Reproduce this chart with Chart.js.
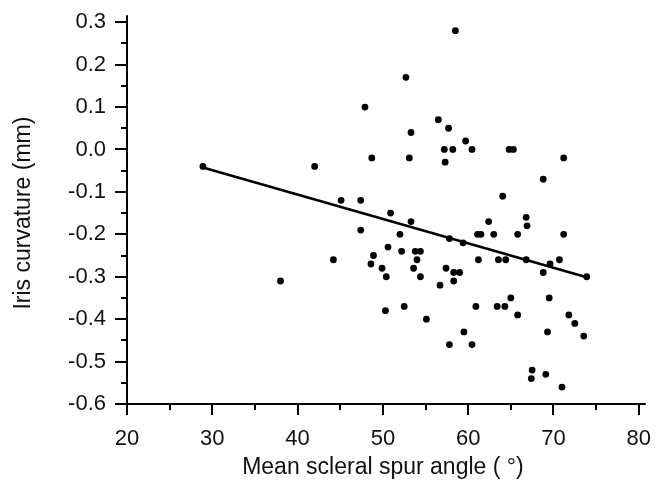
<!DOCTYPE html>
<html>
<head>
<meta charset="utf-8">
<script src="https://cdn.jsdelivr.net/npm/chart.js@4"></script>
<style>
html,body{margin:0;padding:0;background:#fff;}
#wrap{width:662px;height:489px;}
</style>
</head>
<body>
<div id="wrap"><canvas id="c" width="662" height="489"></canvas></div>
<script>
const angleValues = [28.9,38.0,42.0,44.2,45.1,47.4,47.4,47.9,48.6,48.7,48.9,49.9,50.3,50.4,50.6,50.9,52.0,52.2,52.5,52.7,53.1,53.3,53.3,53.6,53.8,54.0,54.4,54.4,55.1,56.5,56.7,57.2,57.3,57.4,57.7,57.8,57.8,58.2,58.3,58.3,58.5,59.0,59.4,59.5,59.7,60.45,60.45,60.9,61.1,61.2,61.5,62.4,63.0,63.4,63.55,64.05,64.3,64.4,64.8,65.0,65.3,65.8,65.8,66.8,66.8,66.9,67.4,67.5,68.8,68.8,69.1,69.3,69.5,69.6,70.7,71.0,71.2,71.2,71.8,72.5,73.55,73.9];
const curvatureValues = [-0.04,-0.31,-0.04,-0.26,-0.12,-0.12,-0.19,0.10,-0.27,-0.02,-0.25,-0.28,-0.38,-0.30,-0.23,-0.15,-0.20,-0.24,-0.37,0.17,-0.02,0.04,-0.17,-0.28,-0.24,-0.26,-0.24,-0.30,-0.40,0.07,-0.32,0.00,-0.03,-0.28,0.05,-0.21,-0.46,0.00,-0.29,-0.31,0.28,-0.29,-0.22,-0.43,0.02,0.00,-0.46,-0.37,-0.20,-0.26,-0.20,-0.17,-0.20,-0.37,-0.26,-0.11,-0.37,-0.26,0.00,-0.35,0.00,-0.20,-0.39,-0.16,-0.26,-0.18,-0.54,-0.52,-0.07,-0.29,-0.53,-0.43,-0.35,-0.27,-0.26,-0.56,-0.02,-0.20,-0.39,-0.41,-0.44,-0.30];
const fitX = [29, 74];
const fitY = [-0.043, -0.302];
const xTicks = [20, 30, 40, 50, 60, 70, 80];
const yTicks = [-0.6, -0.5, -0.4, -0.3, -0.2, -0.1, 0.0, 0.1, 0.2, 0.3];
const xMinor = [25, 35, 45, 55, 65, 75];
const yMinor = [-0.55, -0.45, -0.35, -0.25, -0.15, -0.05, 0.05, 0.15, 0.25];

const FONT = "'Liberation Sans', Arial, sans-serif";

const scatterData = angleValues.map((x, i) => ({x: x, y: curvatureValues[i]}));
const fitData = fitX.map((x, i) => ({x: x, y: fitY[i]}));

const axisPlugin = {
  id: 'axisPlugin',
  afterDraw(chart) {
    const ctx = chart.ctx;
    const xs = chart.scales.x, ys = chart.scales.y;
    const left = chart.chartArea.left, bottom = chart.chartArea.bottom;
    const top = chart.chartArea.top, right = chart.chartArea.right;
    ctx.save();
    ctx.strokeStyle = '#000';
    ctx.lineWidth = 2;
    ctx.beginPath();
    ctx.moveTo(left, bottom);
    ctx.lineTo(left, top - 7);
    ctx.moveTo(left - 1, bottom);
    ctx.lineTo(right + 7, bottom);
    ctx.stroke();
    ctx.beginPath();
    xTicks.forEach(v => { const p = Math.round(xs.getPixelForValue(v)); ctx.moveTo(p, bottom); ctx.lineTo(p, bottom + 11); });
    xMinor.forEach(v => { const p = Math.round(xs.getPixelForValue(v)); ctx.moveTo(p, bottom); ctx.lineTo(p, bottom + 6); });
    yTicks.forEach(v => { const p = Math.round(ys.getPixelForValue(v)); ctx.moveTo(left, p); ctx.lineTo(left - 12, p); });
    yMinor.forEach(v => { const p = Math.round(ys.getPixelForValue(v)); ctx.moveTo(left, p); ctx.lineTo(left - 6, p); });
    ctx.stroke();
    ctx.restore();
  }
};

new Chart(document.getElementById('c'), {
  type: 'scatter',
  data: {
    datasets: [
      {
        data: scatterData,
        backgroundColor: '#000',
        borderColor: '#000',
        pointRadius: 3.4,
        pointHoverRadius: 3.4,
        borderWidth: 0
      },
      {
        data: fitData,
        showLine: true,
        borderColor: '#000',
        borderWidth: 2.6,
        pointRadius: 0,
        fill: false
      }
    ]
  },
  options: {
    responsive: false,
    animation: false,
    events: [],
    layout: { padding: { top: 19, right: 23, left: 0, bottom: 0 } },
    plugins: { legend: { display: false }, tooltip: { enabled: false } },
    scales: {
      x: {
        type: 'linear',
        min: 20, max: 80,
        afterFit: s => { s.height = 85; },
        afterBuildTicks: s => { s.ticks = xTicks.map(v => ({value: v})); },
        grid: { display: true, drawOnChartArea: false, drawTicks: true, tickLength: 11, color: 'rgba(0,0,0,0)' },
        border: { display: false },
        ticks: { color: '#111', font: { family: FONT, size: 22 }, padding: 11, maxRotation: 0, callback: v => String(v) },
        title: { display: true, text: 'Mean scleral spur angle ( °)', color: '#111', font: { family: FONT, size: 23 }, padding: { top: 0, bottom: 8 } }
      },
      y: {
        type: 'linear',
        min: -0.6, max: 0.3,
        afterFit: s => { s.width = 127; },
        afterBuildTicks: s => { s.ticks = yTicks.map(v => ({value: v})); },
        grid: { display: true, drawOnChartArea: false, drawTicks: true, tickLength: 12, color: 'rgba(0,0,0,0)' },
        border: { display: false },
        ticks: { color: '#111', font: { family: FONT, size: 22 }, padding: 9, callback: v => (Math.abs(v) < 1e-9 ? '0.0' : v.toFixed(1)) },
        title: { display: true, text: 'Iris curvature (mm)', color: '#111', font: { family: FONT, size: 23 }, padding: { top: 10, bottom: 0 } }
      }
    }
  },
  plugins: [axisPlugin]
});
</script>
</body>
</html>
